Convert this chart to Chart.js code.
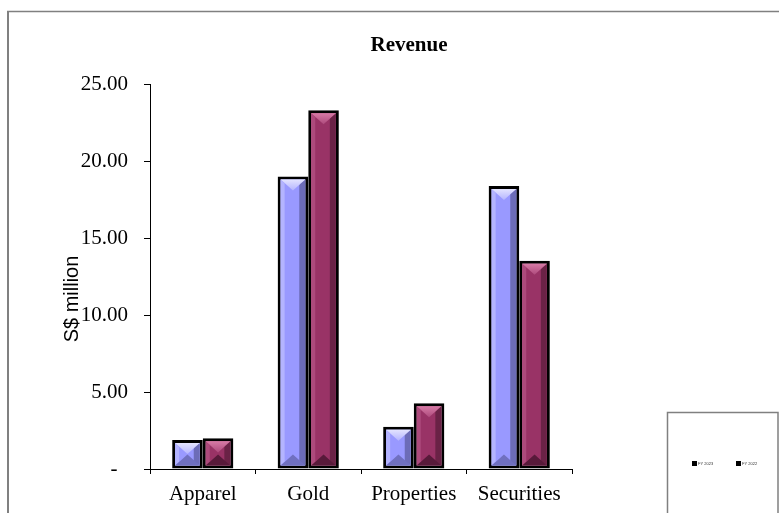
<!DOCTYPE html>
<html>
<head>
<meta charset="utf-8">
<script src="https://cdn.jsdelivr.net/npm/chart.js@4/dist/chart.umd.min.js"></script>
<style>
  html, body { margin: 0; padding: 0; background: #fff; }
  canvas { display: block; }
</style>
</head>
<body>
<canvas id="revenueChart" width="779" height="513"></canvas>
<script>
// data
var categories = ['Apparel', 'Gold', 'Properties', 'Securities'];
var seriesNames = ['FY 2023', 'FY 2022'];
var fy2023 = [1.88, 19.0, 2.75, 18.38];
var fy2022 = [1.99, 23.3, 4.27, 13.52];
var yTicks = [0, 5, 10, 15, 20, 25];

var serif = '"Liberation Serif", "Times New Roman", serif';

// colours for the bevelled look: base, light side, dark side, top, bottom
var bevel = [
    { base: '#9999FF', light: '#B4B4FF', dark: '#6C6CB8', top: '#E4E4FF', bottom: '#7070C0' },
    { base: '#993366', light: '#AD4A7C', dark: '#6A2246', top: '#D77AA6', bottom: '#581A3A' }
];

var decorPlugin = {
    id: 'decor',
    beforeDraw: function (chart) {
        var c = chart.ctx;
        c.save();
        c.fillStyle = '#fff';
        c.fillRect(0, 0, chart.width, chart.height);
        // outer frame (only left and top edges are inside the picture)
        c.strokeStyle = '#808080';
        c.lineWidth = 2;
        c.beginPath();
        c.moveTo(8, 11);
        c.lineTo(8, chart.height);
        c.stroke();
        c.lineWidth = 1.5;
        c.beginPath();
        c.moveTo(7, 11.5);
        c.lineTo(chart.width, 11.5);
        c.stroke();
        c.restore();
    },
    afterDatasetsDraw: function (chart) {
        var c = chart.ctx;
        chart.data.datasets.forEach(function (ds, di) {
            var col = bevel[di];
            chart.getDatasetMeta(di).data.forEach(function (bar) {
                var bw = ds.borderWidth;
                var l = bar.x - bar.width / 2 + bw, r = bar.x + bar.width / 2 - bw;
                var t = bar.y + bw, b = bar.base - bw;
                var w = r - l, h = b - t;
                if (w <= 0 || h <= 0) return;
                var cx = (l + r) / 2;
                var d = Math.min(w * 0.45, h / 2);
                var s = Math.min(4, w / 6);
                c.save();
                // left light strip
                c.fillStyle = col.light;
                c.beginPath();
                c.moveTo(l, t); c.lineTo(l + s, t + s); c.lineTo(l + s, b - s); c.lineTo(l, b);
                c.closePath(); c.fill();
                // right dark strip
                c.fillStyle = col.dark;
                c.beginPath();
                c.moveTo(r, t); c.lineTo(r - s * 1.5, t + s); c.lineTo(r - s * 1.5, b - s); c.lineTo(r, b);
                c.closePath(); c.fill();
                // top highlight
                var g = c.createLinearGradient(0, t, 0, t + d);
                g.addColorStop(0, col.top);
                g.addColorStop(1, col.light);
                c.fillStyle = g;
                c.beginPath();
                c.moveTo(l, t); c.lineTo(r, t); c.lineTo(cx, t + d);
                c.closePath(); c.fill();
                // bottom shadow
                c.fillStyle = col.bottom;
                c.beginPath();
                c.moveTo(l, b); c.lineTo(r, b); c.lineTo(cx, b - d);
                c.closePath(); c.fill();
                c.restore();
            });
        });
    },
    afterDraw: function (chart) {
        var c = chart.ctx;
        c.save();
        // title
        c.fillStyle = '#000';
        c.font = 'bold 21px ' + serif;
        c.textAlign = 'center';
        c.textBaseline = 'alphabetic';
        c.fillText('Revenue', 409, 51);
        // y axis title
        c.font = '20px "Liberation Sans", Arial, sans-serif';
        c.translate(72, 299);
        c.rotate(-Math.PI / 2);
        c.textBaseline = 'middle';
        c.fillText('S$ million', 0, 0);
        c.restore();

        // legend box
        c.save();
        c.strokeStyle = '#808080';
        c.lineWidth = 1.5;
        c.beginPath();
        c.moveTo(667.5, chart.height);
        c.lineTo(667.5, 412.5);
        c.lineTo(778, 412.5);
        c.lineTo(778, chart.height);
        c.stroke();
        c.font = '4px "Liberation Sans", Arial, sans-serif';
        c.textAlign = 'left';
        c.textBaseline = 'middle';
        seriesNames.forEach(function (name, i) {
            var x = 692 + i * 44;
            c.fillStyle = '#000';
            c.fillRect(x, 461, 5, 5);
            c.fillStyle = '#333';
            c.fillText(name, x + 6, 463.5);
        });
        c.restore();
    }
};

var ctx = document.getElementById('revenueChart').getContext('2d');
var revenueChart = new Chart(ctx, {
    type: 'bar',
    data: {
        labels: categories,
        datasets: [{
            label: seriesNames[0],
            data: fy2023,
            backgroundColor: bevel[0].base,
            borderColor: '#000',
            borderWidth: 3,
            borderSkipped: false,
            categoryPercentage: 0.58,
            barPercentage: 1.0
        }, {
            label: seriesNames[1],
            data: fy2022,
            backgroundColor: bevel[1].base,
            borderColor: '#000',
            borderWidth: 3,
            borderSkipped: false,
            categoryPercentage: 0.58,
            barPercentage: 1.0
        }]
    },
    options: {
        responsive: false,
        animation: false,
        layout: { padding: { left: 0, right: 207, top: 84, bottom: 0 } },
        plugins: {
            legend: { display: false },
            title: { display: false },
            tooltip: { enabled: false }
        },
        scales: {
            x: {
                afterFit: function (scale) { scale.height = 44; },
                grid: { offset: true, drawOnChartArea: false, tickLength: 5, color: '#000' },
                border: { color: '#000', width: 1 },
                ticks: { font: { family: serif, size: 21 }, color: '#000', padding: 8 }
            },
            y: {
                min: 0,
                max: 25,
                afterFit: function (scale) { scale.width = 150; },
                afterBuildTicks: function (scale) {
                    scale.ticks = yTicks.map(function (v) { return { value: v }; });
                },
                grid: { drawOnChartArea: false, tickLength: 6, color: '#000' },
                border: { color: '#000', width: 1 },
                ticks: {
                    font: { family: serif, size: 21 },
                    color: '#000',
                    padding: 16,
                    callback: function (v) { return v === 0 ? '-  ' : Number(v).toFixed(2); }
                }
            }
        }
    },
    plugins: [decorPlugin]
});
</script>
</body>
</html>
